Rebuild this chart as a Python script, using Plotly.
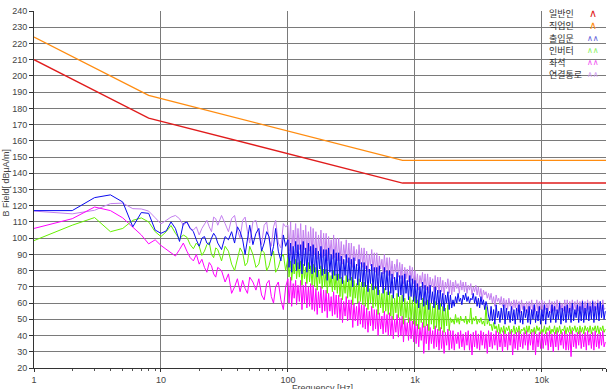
import math
import plotly.graph_objects as go

# ---------------- data ----------------
SERIES_NAMES = ["일반인", "직업인", "출입문", "인버터", "좌석", "연결통로"]

LIMIT_FREQ = [1, 8, 800, 32000]
LIMIT_GENERAL = [210, 174, 134, 134]        # 일반인
LIMIT_OCCUPATIONAL = [224, 188, 148, 148]   # 직업인

FREQ_LOW = [1, 2, 3, 4, 5, 6, 7, 8, 9, 10,
            11, 12, 13, 14, 15, 16, 17, 18, 19, 20,
            21, 22, 23, 24, 25, 26, 27, 28,
            30, 32, 34, 36, 38, 40, 42, 44, 46, 48, 50,
            53, 56, 59, 62, 65, 68, 71, 74, 77, 80,
            84, 88, 92, 96]
FREQ_HIGH = [100, 102, 105, 107, 110, 112, 115, 117, 120, 123,
             126, 129, 132, 135, 138, 141, 145, 148, 151, 155,
             158, 162, 166, 170, 174, 178, 182, 186, 191, 195,
             200, 204, 209, 214, 219, 224, 229, 234, 240, 245,
             251, 257, 263, 269, 275, 282, 288, 295, 302, 309,
             316, 324, 331, 339, 347, 355, 363, 372, 380, 389,
             398, 407, 417, 427, 437, 447, 457, 468, 479, 490,
             501, 513, 525, 537, 550, 562, 575, 589, 603, 617,
             631, 646, 661, 676, 692, 708, 724, 741, 759, 776,
             794, 813, 832, 851, 871, 891, 912, 933, 955, 977,
             1000, 1023, 1047, 1072, 1096, 1122, 1148, 1175, 1202, 1230,
             1259, 1288, 1318, 1349, 1380, 1413, 1445, 1479, 1514, 1549,
             1585, 1622, 1660, 1698, 1738, 1778, 1820, 1862, 1905, 1950,
             1995, 2042, 2089, 2138, 2188, 2239, 2291, 2344, 2399, 2455,
             2512, 2570, 2630, 2692, 2754, 2818, 2884, 2951, 3020, 3090,
             3162, 3236, 3311, 3388, 3467, 3548, 3631, 3715, 3802, 3890,
             3981, 4074, 4169, 4266, 4365, 4467, 4571, 4677, 4786, 4898,
             5012, 5129, 5248, 5370, 5495, 5623, 5754, 5888, 6026, 6166,
             6310, 6457, 6607, 6761, 6918, 7079, 7244, 7413, 7586, 7762,
             7943, 8128, 8318, 8511, 8710, 8913, 9120, 9333, 9550, 9772,
             10000, 10230, 10470, 10720, 10960, 11220, 11480, 11750, 12020, 12300,
             12590, 12880, 13180, 13490, 13800, 14130, 14450, 14790, 15140, 15490,
             15850, 16220, 16600, 16980, 17380, 17780, 18200, 18620, 19050, 19500,
             19950, 20420, 20890, 21380, 21880, 22390, 22910, 23440, 23990, 24550,
             25120, 25700, 26300, 26920, 27540, 28180, 28840, 29510, 30200, 30900,
             31620]

# 출입문
DOOR_LOW = [117, 117, 125, 126.7, 122.3, 107, 115.8, 115.3, 105, 103,
            104.5, 110, 106, 98, 109, 110, 106, 104, 99, 95,
            100, 101, 97, 96, 100, 103, 101, 97,
            93, 101, 99, 104, 97, 107, 104, 99, 90, 100, 108,
            96, 103, 106, 92, 97, 104, 101, 89, 95, 106,
            92, 86, 102, 95]
DOOR_HIGH = [99, 82, 97, 79, 95, 84, 98, 80, 96, 81,
             96, 78, 98, 83, 94, 79, 97, 81, 95, 78,
             96, 79, 94, 76, 92, 81, 95, 77, 93, 78,
             93, 74, 94, 79, 90, 75, 93, 77, 91, 74,
             91, 75, 89, 72, 87, 77, 90, 73, 88, 74,
             87, 70, 88, 75, 84, 71, 87, 73, 85, 70,
             85, 70, 83, 67, 81, 72, 84, 68, 82, 69,
             82, 65, 83, 70, 79, 66, 82, 68, 80, 65,
             80, 66, 78, 63, 76, 68, 79, 64, 77, 65,
             77, 61, 78, 66, 74, 62, 77, 64, 75, 61,
             74, 60, 72, 57, 70, 62, 73, 58, 71, 59,
             70, 56, 71, 60, 67, 57, 70, 59, 68, 56,
             68, 58, 66, 55, 65, 60, 67, 56, 65, 57,
             62, 58, 64, 60, 66, 61, 63, 59, 65, 62,
             66, 61, 64, 60, 63, 62, 66, 60, 64, 58,
             63, 57, 64, 59, 62, 56, 61, 58, 52, 49,
             58, 49, 56, 47, 59, 51, 55, 48, 57, 50,
             59, 47, 57, 50, 55, 48, 58, 49, 56, 47,
             57, 50, 59, 48, 55, 47, 58, 51, 56, 48,
             58, 47, 56, 50, 59, 48, 55, 49, 58, 47,
             56, 49, 59, 47, 57, 51, 55, 48, 59, 50,
             58, 48, 56, 50, 60, 47, 57, 49, 58, 48,
             59, 50, 57, 48, 60, 49, 56, 51, 59, 48,
             58, 49, 61, 48, 57, 50, 60, 49, 58, 50,
             61, 48, 58, 50, 60, 49, 61, 51, 59, 50,
             55]

# 연결통로
PASSAGE_LOW = [116.7, 115, 117.2, 121.3, 121.6, 118.2, 118, 116.7, 112.6, 108.8,
               111, 113, 114, 112, 108, 110, 106, 105, 107, 102,
               106, 109, 111, 107, 104, 113, 112, 108,
               114, 109, 104, 112, 114, 105, 100, 111, 113, 104, 97,
               110, 111, 102, 96, 108, 110, 99, 95, 107, 111,
               97, 94, 109, 107]
PASSAGE_HIGH = [108, 92, 110, 90, 105, 95, 109, 91, 106, 93,
                109, 89, 105, 93, 108, 90, 104, 92, 107, 89,
                106, 90, 104, 87, 102, 92, 105, 88, 103, 89,
                103, 86, 101, 90, 99, 87, 102, 88, 100, 86,
                100, 86, 98, 84, 96, 88, 99, 85, 97, 84,
                97, 82, 95, 86, 93, 83, 96, 84, 94, 82,
                94, 81, 92, 79, 90, 83, 93, 80, 91, 79,
                91, 77, 89, 81, 87, 78, 90, 79, 88, 77,
                88, 77, 86, 75, 84, 79, 87, 76, 85, 75,
                84, 72, 82, 75, 81, 73, 83, 74, 82, 72,
                80, 70, 78, 68, 77, 72, 79, 69, 78, 68,
                78, 66, 76, 70, 75, 67, 77, 68, 76, 66,
                76, 67, 74, 65, 73, 69, 75, 66, 74, 65,
                73, 67, 74, 69, 72, 66, 74, 68, 73, 67,
                73, 66, 71, 68, 72, 65, 70, 67, 71, 65,
                70, 64, 69, 62, 68, 65, 67, 63, 66, 62,
                66, 60, 64, 58, 65, 61, 63, 59, 64, 58,
                63, 57, 62, 56, 63, 58, 61, 56, 62, 57,
                62, 55, 61, 54, 62, 56, 60, 55, 61, 54,
                61, 56, 62, 54, 60, 55, 62, 54, 61, 56,
                62, 54, 61, 56, 60, 55, 62, 54, 61, 55,
                61, 55, 62, 54, 61, 56, 60, 55, 62, 54,
                62, 54, 61, 55, 62, 56, 61, 54, 62, 55,
                61, 56, 62, 54, 61, 55, 62, 56, 61, 54,
                62, 55, 61, 56, 62, 54, 61, 55, 62, 56,
                57]

# 인버터
INVERTER_LOW = [98.5, 108, 112.7, 104, 106, 111, 112.5, 110, 104, 101,
                104, 107.8, 103, 99.6, 102, 100.6, 96, 93.5, 97, 95,
                89.4, 92, 96, 97.5, 90, 88, 94, 93,
                86, 95, 92, 84, 80, 88, 94, 91, 83, 85, 95,
                90, 82, 84, 93, 91, 80, 83, 89, 92, 79,
                82, 88, 90, 80]
INVERTER_HIGH = [88, 76, 86, 74, 84, 78, 87, 75, 85, 76,
                 86, 71, 84, 75, 82, 72, 85, 73, 83, 71,
                 84, 70, 82, 68, 80, 72, 83, 69, 81, 70,
                 81, 66, 79, 70, 77, 67, 80, 68, 78, 66,
                 78, 64, 76, 62, 74, 66, 77, 63, 75, 64,
                 76, 59, 74, 63, 72, 60, 75, 61, 73, 59,
                 73, 58, 71, 56, 69, 60, 72, 57, 70, 58,
                 70, 53, 68, 57, 66, 54, 69, 55, 67, 53,
                 67, 52, 65, 50, 63, 54, 66, 51, 64, 52,
                 65, 47, 63, 51, 61, 48, 64, 49, 62, 47,
                 64, 46, 62, 44, 60, 48, 63, 45, 61, 46,
                 62, 43, 60, 47, 58, 44, 61, 45, 59, 43,
                 60, 44, 58, 42, 57, 46, 59, 43, 51, 48,
                 50, 47, 53, 48, 51, 47, 52, 49, 50, 48,
                 52, 47, 50, 48, 57, 47, 51, 49, 52, 47,
                 50, 48, 51, 47, 49, 46, 58, 47, 50, 46,
                 47, 43, 48, 44, 46, 42, 47, 41, 45, 42,
                 46, 41, 45, 43, 46, 41, 44, 42, 46, 41,
                 45, 42, 46, 41, 44, 43, 45, 41, 46, 42,
                 46, 41, 44, 42, 45, 41, 46, 43, 45, 41,
                 44, 42, 46, 41, 45, 43, 46, 41, 44, 42,
                 46, 41, 45, 42, 46, 41, 44, 43, 46, 41,
                 45, 42, 46, 41, 45, 43, 46, 42, 45, 41,
                 46, 42, 45, 41, 46, 43, 45, 42, 46, 41,
                 45, 43, 46, 42, 46, 41, 45, 43, 46, 42,
                 44]

# 좌석
SEAT_LOW = [106, 112, 119.2, 117, 112.5, 107, 102, 96.5, 99, 95.5,
            93, 91, 89, 93, 97, 92, 88, 86, 90, 84,
            87, 82, 79, 85, 83, 78, 76, 82,
            80, 73, 78, 66, 70, 75, 67, 74, 69, 66, 76,
            73, 68, 75, 65, 62, 72, 74, 64, 60, 70,
            73, 62, 56, 70]
SEAT_HIGH = [75, 60, 76, 58, 72, 63, 74, 59, 71, 61,
             74, 56, 71, 60, 73, 57, 70, 58, 72, 56,
             71, 55, 69, 53, 67, 57, 70, 54, 68, 55,
             68, 51, 66, 55, 64, 52, 67, 53, 65, 51,
             65, 50, 63, 48, 61, 52, 64, 49, 62, 50,
             62, 45, 60, 49, 58, 46, 61, 47, 59, 45,
             59, 44, 57, 42, 55, 46, 58, 43, 56, 44,
             56, 40, 54, 44, 52, 41, 55, 42, 53, 40,
             54, 40, 52, 38, 50, 42, 53, 39, 51, 40,
             52, 36, 50, 40, 48, 37, 51, 38, 49, 36,
             49, 35, 47, 33, 45, 37, 48, 29, 46, 35,
             47, 31, 45, 35, 43, 32, 46, 33, 44, 31,
             45, 32, 43, 29, 42, 34, 44, 31, 43, 32,
             43, 31, 41, 35, 42, 32, 43, 33, 41, 31,
             42, 34, 43, 31, 41, 28, 42, 33, 43, 32,
             41, 31, 43, 34, 42, 32, 41, 29, 43, 33,
             42, 32, 41, 34, 43, 31, 42, 33, 41, 30,
             43, 33, 41, 31, 42, 34, 43, 28, 41, 32,
             42, 31, 43, 33, 41, 32, 42, 34, 43, 31,
             41, 34, 42, 31, 43, 28, 41, 33, 42, 32,
             43, 32, 41, 34, 42, 31, 43, 33, 41, 30,
             42, 33, 43, 31, 41, 34, 42, 32, 43, 31,
             41, 31, 42, 27, 43, 33, 41, 32, 42, 34,
             43, 32, 41, 33, 42, 31, 43, 34, 41, 32,
             42, 31, 43, 33, 41, 32, 42, 34, 43, 33,
             36]

X_TICK_VALS = [1, 10, 100, 1000, 10000, 32000]
X_TICK_TEXT = ["1", "10", "100", "1k", "10k", "32k"]
X_MINOR_TICKS = [2, 3, 4, 5, 6, 7, 8, 9,
                 20, 30, 40, 50, 60, 70, 80, 90,
                 200, 300, 400, 500, 600, 700, 800, 900,
                 2000, 3000, 4000, 5000, 6000, 7000, 8000, 9000,
                 20000, 30000]

FREQ = FREQ_LOW + FREQ_HIGH
DOOR = DOOR_LOW + DOOR_HIGH
PASSAGE = PASSAGE_LOW + PASSAGE_HIGH
INVERTER = INVERTER_LOW + INVERTER_HIGH
SEAT = SEAT_LOW + SEAT_HIGH

# ---------------- styling ----------------
COLORS = {
    "일반인": "#e01c1c",
    "직업인": "#ff8c10",
    "출입문": "#0a0af0",
    "인버터": "#66f000",
    "좌석": "#ff00ff",
    "연결통로": "#c47ff0",
}
LEGEND_SYMBOL_COLORS = ["#e01c1c", "#ff8c10", "#5a5ad8", "#88f060", "#f050f0", "#d4a0f0"]

NOISE_W = 1

fig = go.Figure()
fig.add_trace(go.Scatter(x=LIMIT_FREQ, y=LIMIT_GENERAL, mode="lines", name="일반인",
                         line=dict(color=COLORS["일반인"], width=1.3)))
fig.add_trace(go.Scatter(x=LIMIT_FREQ, y=LIMIT_OCCUPATIONAL, mode="lines", name="직업인",
                         line=dict(color=COLORS["직업인"], width=1.3)))
fig.add_trace(go.Scatter(x=FREQ, y=PASSAGE, mode="lines", name="연결통로",
                         line=dict(color=COLORS["연결통로"], width=NOISE_W)))
fig.add_trace(go.Scatter(x=FREQ, y=SEAT, mode="lines", name="좌석",
                         line=dict(color=COLORS["좌석"], width=NOISE_W)))
fig.add_trace(go.Scatter(x=FREQ, y=INVERTER, mode="lines", name="인버터",
                         line=dict(color=COLORS["인버터"], width=NOISE_W)))
fig.add_trace(go.Scatter(x=FREQ, y=DOOR, mode="lines", name="출입문",
                         line=dict(color=COLORS["출입문"], width=NOISE_W)))

W, H = 610, 389
ML, MR, MT, MB = 34, 4, 11, 16
PW, PH = W - ML - MR, H - MT - MB

def px_to_paper_x(px):
    return (px - ML) / PW

def px_to_paper_y(py):
    return (H - MB - py) / PH

annotations = []
# legend (text on the left, symbol on the right)
for i, name in enumerate(SERIES_NAMES):
    yc = 14 + 12.2 * i
    annotations.append(dict(
        xref="paper", yref="paper", x=px_to_paper_x(547), y=px_to_paper_y(yc),
        xanchor="left", yanchor="middle", showarrow=False, text=name,
        font=dict(family="Noto Sans CJK KR", size=9, color="#333333")))
    sym = "∧" if i < 2 else "∧∧"
    annotations.append(dict(
        xref="paper", yref="paper", x=px_to_paper_x(593), y=px_to_paper_y(yc),
        xanchor="center", yanchor="middle", showarrow=False, text=sym,
        font=dict(family="DejaVu Sans", size=11 if i < 2 else 8,
                  color=LEGEND_SYMBOL_COLORS[i])))

# axis titles
annotations.append(dict(
    xref="paper", yref="paper", x=px_to_paper_x(6), y=px_to_paper_y(185),
    xanchor="center", yanchor="middle", showarrow=False, textangle=-90,
    text="B Field[ dBμA/m]", font=dict(family="Liberation Sans", size=9, color="#444444")))
annotations.append(dict(
    xref="paper", yref="paper", x=px_to_paper_x(322), y=px_to_paper_y(386),
    xanchor="center", yanchor="top", showarrow=False,
    text="Frequency [Hz]", font=dict(family="Liberation Sans", size=9, color="#444444")))

GRID = "#7a7a7a"
fig.update_layout(
    width=W, height=H,
    margin=dict(l=ML, r=MR, t=MT, b=MB, pad=0),
    paper_bgcolor="white", plot_bgcolor="white",
    showlegend=False,
    font=dict(family="Liberation Sans", size=9, color="#444444"),
    annotations=annotations,
    xaxis=dict(
        type="log", range=[0, math.log10(32000)],
        tickmode="array", tickvals=X_TICK_VALS, ticktext=X_TICK_TEXT,
        showgrid=True, gridcolor=GRID, gridwidth=1,
        ticks="outside", ticklen=3, tickcolor="#333333",
        showline=True, linecolor="#333333", linewidth=1,
        zeroline=False,
        minor=dict(tickmode="array", tickvals=X_MINOR_TICKS, ticks="outside",
                   ticklen=2, tickcolor="#555555", showgrid=False),
        tickfont=dict(size=9, color="#444444"),
    ),
    yaxis=dict(
        range=[20, 240], tick0=20, dtick=10,
        showgrid=True, gridcolor=GRID, gridwidth=1,
        ticks="outside", ticklen=4, tickcolor="#333333",
        showline=True, linecolor="#333333", linewidth=1,
        zeroline=False,
        tickfont=dict(size=9, color="#444444"),
    ),
)

fig.write_html("out.html",
               config={"displayModeBar": False},
               post_script="document.body.style.margin='0px';document.body.style.overflow='hidden';")
